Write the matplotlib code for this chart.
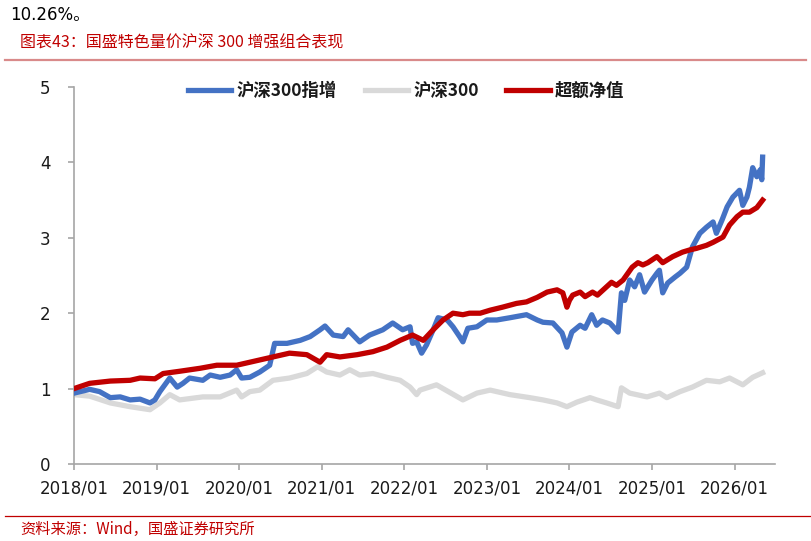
import matplotlib
matplotlib.use("Agg")
import matplotlib.pyplot as plt
from matplotlib.lines import Line2D

plt.rcParams['font.family'] = ['DejaVu Sans', 'Noto Sans CJK SC']

# ---------------- data ----------------
series_names = ["沪深300指增", "沪深300", "超额净值"]

enh_dates = [2018.00, 2018.19, 2018.31, 2018.44, 2018.56, 2018.68, 2018.80, 2018.92, 2018.98,
             2019.04, 2019.10, 2019.16, 2019.25, 2019.32, 2019.40, 2019.56, 2019.65, 2019.77,
             2019.89, 2019.97, 2020.03, 2020.13, 2020.25, 2020.37, 2020.43, 2020.58, 2020.74,
             2020.86, 2020.98, 2021.04, 2021.14, 2021.26, 2021.32, 2021.46, 2021.58, 2021.74,
             2021.86, 2021.98, 2022.07, 2022.10, 2022.15, 2022.21, 2022.27, 2022.35, 2022.41,
             2022.52, 2022.59, 2022.67, 2022.71, 2022.77, 2022.88, 2023.00, 2023.12, 2023.28,
             2023.48, 2023.61, 2023.68, 2023.80, 2023.91, 2023.97, 2024.03, 2024.13, 2024.19,
             2024.27, 2024.33, 2024.40, 2024.49, 2024.59, 2024.63, 2024.67, 2024.73, 2024.79,
             2024.85, 2024.91, 2025.00, 2025.06, 2025.09, 2025.13, 2025.19, 2025.28, 2025.34,
             2025.42, 2025.49, 2025.58, 2025.66, 2025.74, 2025.78, 2025.85, 2025.91, 2025.98,
             2026.06, 2026.10, 2026.15, 2026.18, 2026.22, 2026.27, 2026.31, 2026.33, 2026.34]
enh_values = [0.94, 0.99, 0.96, 0.88, 0.89, 0.85, 0.86, 0.81, 0.85,
              0.96, 1.05, 1.14, 1.02, 1.07, 1.14, 1.11, 1.18, 1.15,
              1.18, 1.25, 1.14, 1.15, 1.22, 1.31, 1.60, 1.60, 1.64,
              1.69, 1.78, 1.83, 1.71, 1.69, 1.78, 1.62, 1.71, 1.78,
              1.87, 1.78, 1.82, 1.60, 1.62, 1.47, 1.58, 1.78, 1.94,
              1.91, 1.82, 1.69, 1.62, 1.80, 1.82, 1.91, 1.91, 1.94,
              1.98, 1.91, 1.88, 1.87, 1.74, 1.55, 1.75, 1.84, 1.80,
              1.98, 1.84, 1.91, 1.87, 1.75, 2.27, 2.17, 2.44, 2.35,
              2.51, 2.28, 2.44, 2.53, 2.57, 2.27, 2.40, 2.48, 2.53,
              2.61, 2.88, 3.06, 3.14, 3.21, 3.06, 3.24, 3.41, 3.54,
              3.63, 3.43, 3.54, 3.67, 3.93, 3.81, 3.90, 3.77, 4.07]

hs300_dates = [2018.00, 2018.19, 2018.44, 2018.68, 2018.92, 2019.04, 2019.16, 2019.28, 2019.56,
               2019.77, 2019.97, 2020.03, 2020.13, 2020.25, 2020.41, 2020.61, 2020.82, 2020.95,
               2021.06, 2021.22, 2021.34, 2021.46, 2021.62, 2021.79, 2021.95, 2022.07, 2022.15,
               2022.19, 2022.39, 2022.55, 2022.71, 2022.88, 2023.04, 2023.28, 2023.52, 2023.68,
               2023.85, 2023.97, 2024.09, 2024.25, 2024.33, 2024.45, 2024.59, 2024.63, 2024.73,
               2024.94, 2025.09, 2025.18, 2025.34, 2025.49, 2025.66, 2025.82, 2025.94, 2026.10,
               2026.22, 2026.34]
hs300_values = [0.92, 0.90, 0.81, 0.76, 0.72, 0.81, 0.92, 0.85, 0.89,
                0.89, 0.98, 0.89, 0.96, 0.98, 1.11, 1.14, 1.20, 1.29,
                1.22, 1.18, 1.25, 1.18, 1.20, 1.15, 1.11, 1.02, 0.92,
                0.98, 1.05, 0.95, 0.85, 0.94, 0.98, 0.92, 0.88, 0.85,
                0.81, 0.76, 0.82, 0.88, 0.85, 0.81, 0.76, 1.01, 0.94,
                0.89, 0.94, 0.88, 0.96, 1.02, 1.11, 1.09, 1.14, 1.05,
                1.15, 1.21]

exc_dates = [2018.00, 2018.19, 2018.44, 2018.68, 2018.80, 2018.98, 2019.08, 2019.28, 2019.53,
             2019.73, 2019.97, 2020.09, 2020.25, 2020.41, 2020.61, 2020.82, 2020.98, 2021.06,
             2021.22, 2021.43, 2021.62, 2021.79, 2021.95, 2022.10, 2022.23, 2022.35, 2022.47,
             2022.59, 2022.71, 2022.79, 2022.92, 2023.04, 2023.19, 2023.36, 2023.48, 2023.61,
             2023.73, 2023.85, 2023.92, 2023.97, 2024.00, 2024.04, 2024.13, 2024.19, 2024.28,
             2024.34, 2024.45, 2024.51, 2024.57, 2024.65, 2024.76, 2024.83, 2024.89, 2024.95,
             2025.06, 2025.13, 2025.25, 2025.37, 2025.46, 2025.54, 2025.66, 2025.74, 2025.86,
             2025.94, 2026.03, 2026.10, 2026.18, 2026.27, 2026.34]
exc_values = [1.00, 1.07, 1.10, 1.11, 1.14, 1.13, 1.20, 1.23, 1.27,
              1.31, 1.31, 1.34, 1.38, 1.42, 1.47, 1.45, 1.35, 1.45,
              1.42, 1.45, 1.49, 1.55, 1.64, 1.71, 1.64, 1.78, 1.91,
              2.00, 1.98, 2.00, 2.00, 2.04, 2.08, 2.13, 2.15, 2.21,
              2.28, 2.31, 2.27, 2.08, 2.17, 2.24, 2.28, 2.22, 2.28,
              2.24, 2.35, 2.41, 2.37, 2.44, 2.61, 2.67, 2.64, 2.67,
              2.75, 2.67, 2.75, 2.81, 2.84, 2.86, 2.90, 2.94, 3.01,
              3.17, 3.28, 3.34, 3.34, 3.40, 3.50]

xtick_pos = [2018, 2019, 2020, 2021, 2022, 2023, 2024, 2025, 2026]
xtick_labels = ["2018/01", "2019/01", "2020/01", "2021/01", "2022/01",
                "2023/01", "2024/01", "2025/01", "2026/01"]
ytick_pos = [0, 1, 2, 3, 4, 5]

top_text = "10.26%。"
title_text = "图表43：国盛特色量价沪深 300 增强组合表现"
source_text = "资料来源：Wind，国盛证券研究所"

colors = ["#4472C4", "#D9D9D9", "#C00000"]

# ---------------- figure ----------------
fig = plt.figure(figsize=(8.11, 5.41), dpi=100)
W, H = 811, 541

def fx(px):
    return px / W

def fy(py):
    return 1 - py / H

ax = fig.add_axes([fx(74), fy(464), fx(775) - fx(74), fy(87) - fy(464)])

lw = 3.8
ax.plot(enh_dates, enh_values, color=colors[0], lw=lw, solid_joinstyle='round', zorder=3)
ax.plot(hs300_dates, hs300_values, color=colors[1], lw=lw, solid_joinstyle='round', zorder=2)
ax.plot(exc_dates, exc_values, color=colors[2], lw=lw, solid_joinstyle='round', zorder=4)

ax.set_xlim(2018.0, 2026.49)
ax.set_ylim(0, 5)
ax.set_xticks(xtick_pos)
ax.set_xticklabels(xtick_labels)
ax.set_yticks(ytick_pos)
ax.set_yticklabels([str(v) for v in ytick_pos])

for s in ["top", "right"]:
    ax.spines[s].set_visible(False)
for s in ["left", "bottom"]:
    ax.spines[s].set_color("#A6A6A6")
    ax.spines[s].set_linewidth(1.2)

ax.tick_params(axis='both', colors="#A6A6A6", width=1.2, length=4, direction='out',
               labelcolor="#1a1a1a", labelsize=12)
ax.tick_params(axis='y', pad=13)
ax.tick_params(axis='x', pad=7)
for lab in ax.get_xticklabels() + ax.get_yticklabels():
    lab.set_family(['DejaVu Sans'])

handles = [Line2D([0], [0], color=c, lw=3.8) for c in colors]
leg = ax.legend(handles, series_names, loc='center', bbox_to_anchor=(0.474, 0.99),
                ncol=3, frameon=False, handlelength=2.5, handletextpad=0.3,
                columnspacing=1.6, prop={'family': ['Noto Sans CJK SC'], 'weight': 'bold', 'size': 12.5})
for t in leg.get_texts():
    t.set_color("#1a1a1a")

# header / footer texts
fig.text(fx(10), fy(15), top_text, fontsize=12, color="#000000",
         family=['DejaVu Sans', 'Noto Sans CJK SC'], va='center', ha='left')
fig.text(fx(20), fy(43), title_text, fontsize=11.5, color="#C00000",
         family=['Noto Sans CJK SC', 'DejaVu Sans'], va='center', ha='left', style='italic')
fig.add_artist(Line2D([fx(5), fx(806)], [fy(60), fy(60)], color="#D98A8A", lw=1.6,
                      transform=fig.transFigure))
fig.add_artist(Line2D([fx(5), fx(811)], [fy(516), fy(516)], color="#C00000", lw=0.9,
                      transform=fig.transFigure))
fig.text(fx(20), fy(529), source_text, fontsize=11, color="#C00000",
         family=['Noto Sans CJK SC', 'DejaVu Sans'], va='center', ha='left', style='italic')

fig.savefig("out.png", dpi=100)
